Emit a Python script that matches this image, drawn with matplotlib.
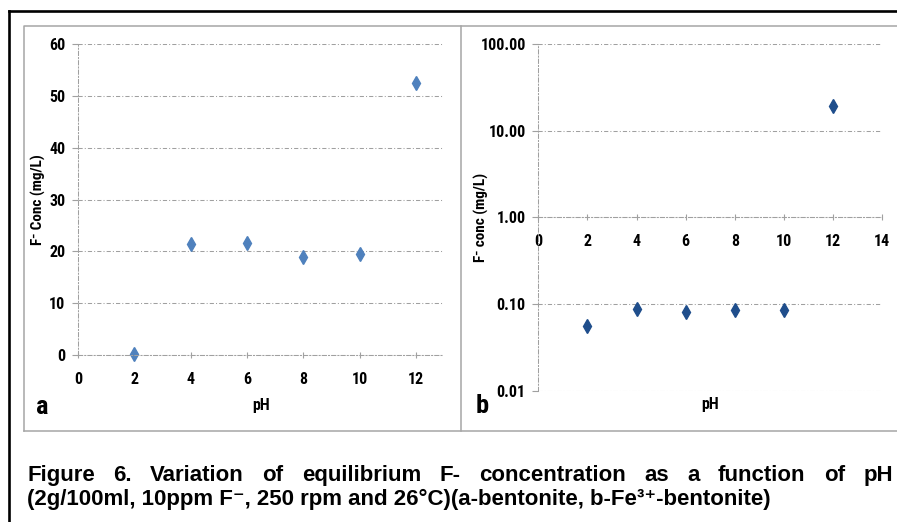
#!/usr/bin/env python3

import matplotlib
matplotlib.use('Agg')
import matplotlib.pyplot as plt
from matplotlib import font_manager as fm
from matplotlib.lines import Line2D
from matplotlib.ticker import FixedLocator, FuncFormatter, NullLocator

# data
ph = [2, 4, 6, 8, 10, 12]
conc_a = [0.2, 21.4, 21.7, 18.9, 19.4, 52.4]          # bentonite, mg/L
conc_b = [0.056, 0.088, 0.080, 0.085, 0.085, 19.1]    # Fe3+-bentonite, mg/L
xticks_a = [0, 2, 4, 6, 8, 10, 12]
xticks_b = [0, 2, 4, 6, 8, 10, 12, 14]
yticks_a = [0, 10, 20, 30, 40, 50, 60]
yticks_b = [0.01, 0.1, 1, 10, 100]

caption1 = "Figure 6. Variation of equilibrium F- concentration as a function of pH"
caption2 = "(2g/100ml, 10ppm F\u207b, 250 rpm and 26°C)(a-bentonite, b-Fe\u00b3\u207a-bentonite)"

W, H = 897, 522


def pick(names):
    for n in names:
        try:
            fm.findfont(fm.FontProperties(family=n), fallback_to_default=False)
            return n
        except ValueError:
            pass
    return 'DejaVu Sans'


narrow = pick(['Liberation Sans Narrow', 'Roboto Condensed', 'Liberation Sans'])
sans = pick(['Liberation Sans', 'Arial', 'DejaVu Sans'])

GRID = '#A0A0A0'
DASH = (0, (4, 2, 1, 2))


def fx(x):
    return x / W


def fy(y):
    return 1 - y / H


def style_axes(ax):
    for s in ('top', 'right'):
        ax.spines[s].set_visible(False)
    for s in ('left', 'bottom'):
        ax.spines[s].set_color(GRID)
        ax.spines[s].set_linewidth(0.75)
        ax.spines[s].set_linestyle(DASH)
    ax.grid(True, axis='y', color=GRID, lw=0.75, ls=DASH)
    ax.set_axisbelow(True)
    ax.tick_params(axis='x', direction='inout', length=4, color=GRID, pad=10)
    ax.tick_params(axis='y', direction='out', length=4, color=GRID, pad=5)
    for lab in ax.get_xticklabels() + ax.get_yticklabels():
        lab.set_fontfamily(narrow)
        lab.set_fontweight('bold')
        lab.set_fontsize(11.5)


fig = plt.figure(figsize=(W / 100, H / 100), dpi=100)

# panel a
ax1 = fig.add_axes([fx(78), fy(355), (443 - 78) / W, (355 - 44) / H])
ax1.plot(ph, conc_a, ls='none', marker='d', ms=7.5, color='#4F81BD', clip_on=False)
ax1.set_xlim(0, 12.95)
ax1.set_ylim(0, 60)
ax1.xaxis.set_major_locator(FixedLocator(xticks_a))
ax1.yaxis.set_major_locator(FixedLocator(yticks_a))
style_axes(ax1)
ax1.set_xlabel('pH', family=narrow, weight='bold', fontsize=11.5, va='center')
ax1.xaxis.set_label_coords(0.501, -0.161)
ax1.set_ylabel('F\u207b Conc (mg/L)', family=[narrow, 'DejaVu Sans'], weight='bold',
               fontsize=11, va='center')
ax1.yaxis.set_label_coords(-0.108, 0.5)

# panel b
ax2 = fig.add_axes([fx(538.3), fy(390.7), (882.3 - 538.3) / W, (390.7 - 44) / H])
ax2.plot(ph, conc_b, ls='none', marker='d', ms=7.5, color='#1F4E8C', clip_on=False)
ax2.set_yscale('log')
ax2.set_xlim(0, 14)
ax2.set_ylim(0.01, 100)
ax2.spines['bottom'].set_position(('data', 1))
ax2.xaxis.set_major_locator(FixedLocator(xticks_b))
ax2.yaxis.set_major_locator(FixedLocator(yticks_b))
ax2.yaxis.set_minor_locator(NullLocator())
ax2.yaxis.set_major_formatter(FuncFormatter(lambda v, p: '%.2f' % v))
style_axes(ax2)
ax2.set_xlabel('pH', family=narrow, weight='bold', fontsize=11.5, va='center')
ax2.xaxis.set_label_coords(0.499, -0.041)
ax2.set_ylabel('F\u207b conc (mg/L)', family=[narrow, 'DejaVu Sans'], weight='bold',
               fontsize=11, va='center')
ax2.yaxis.set_label_coords(-0.165, 0.5)

# panel letters
fig.text(fx(42), fy(414), 'a', family=narrow, weight='bold', fontsize=19,
         ha='center', va='baseline')
fig.text(fx(482), fy(413), 'b', family=narrow, weight='bold', fontsize=19,
         ha='center', va='baseline')

# frames
black = dict(color='black', lw=1.9, transform=fig.transFigure)
fig.add_artist(Line2D([fx(9), fx(9)], [fy(11), fy(530)], **black))
fig.add_artist(Line2D([fx(9), fx(905)], [fy(11), fy(11)], **black))
gray = dict(color='#A6A6A6', lw=1.1, transform=fig.transFigure)
fig.add_artist(Line2D([fx(24), fx(24), fx(905)], [fy(431), fy(26), fy(26)], **gray))
fig.add_artist(Line2D([fx(24), fx(905)], [fy(431), fy(431)], **gray))
fig.add_artist(Line2D([fx(461), fx(461)], [fy(26), fy(431)], **gray))

# caption, first line justified
cap_size = 16
cap_font = [sans, 'DejaVu Sans']
renderer = fig.canvas.get_renderer()
words = caption1.split()
texts = [fig.text(0, fy(481), w, family=cap_font, weight='bold', fontsize=cap_size,
                  va='baseline') for w in words]
widths = [t.get_window_extent(renderer).width for t in texts]
gap = (893 - 27 - sum(widths)) / (len(words) - 1)
x = 27
for t, w in zip(texts, widths):
    t.set_x(fx(x))
    x += w + gap
fig.text(fx(27), fy(505), caption2, family=cap_font, weight='bold', fontsize=cap_size,
         va='baseline')

fig.savefig('out.png', dpi=100)
